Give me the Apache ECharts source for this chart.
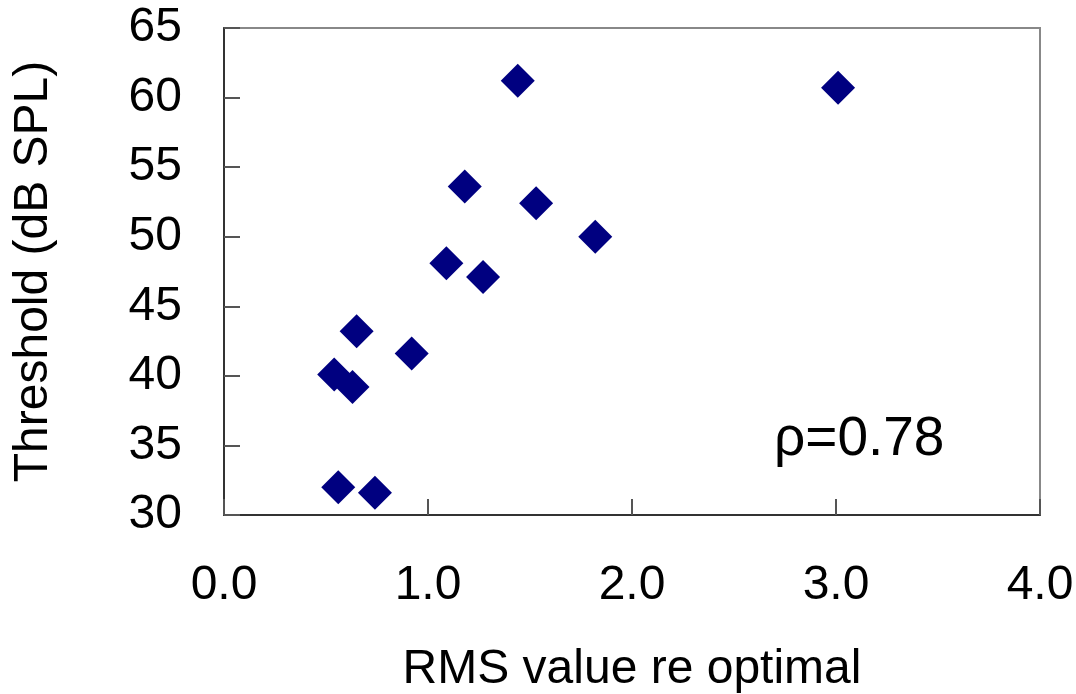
<!DOCTYPE html>
<html>
<head>
<meta charset="utf-8">
<script src="https://cdn.jsdelivr.net/npm/echarts@6/dist/echarts.min.js"></script>
<style>
  html, body { margin: 0; padding: 0; background: #fff; }
  #main { width: 1076px; height: 694px; }
</style>
</head>
<body>
<div id="main"></div>
<script>
// RMS value re optimal vs threshold, one point per subject
var rmsValues = [1.44, 3.01, 1.18, 1.53, 1.82, 1.09, 1.27, 0.65, 0.92, 0.54, 0.63, 0.56, 0.74];
var thresholds = [61.2, 60.7, 53.6, 52.4, 50.0, 48.1, 47.1, 43.2, 41.6, 40.1, 39.2, 32.0, 31.6];
var xTicks = [0, 1, 2, 3, 4];
var yTicks = [30, 35, 40, 45, 50, 55, 60, 65];
var rhoText = 'ρ=0.78';

var chart = echarts.init(document.getElementById('main'));

var points = [];
for (var i = 0; i < rmsValues.length; i++) {
    points.push([rmsValues[i], thresholds[i]]);
}

var font = 'Liberation Sans, Arial, sans-serif';

var option = {
    backgroundColor: '#fff',
    animation: false,
    title: {
        text: rhoText,
        left: 774,
        top: 412,
        padding: 0,
        textStyle: {
            fontFamily: font,
            fontSize: 55,
            fontWeight: 'normal',
            color: '#000'
        }
    },
    grid: {
        left: 224,
        top: 28,
        right: 36,
        bottom: 179,
        containLabel: false,
        outerBoundsMode: 'none',
        show: true,
        borderColor: '#888',
        borderWidth: 2
    },
    xAxis: {
        type: 'value',
        min: xTicks[0],
        max: xTicks[xTicks.length - 1],
        interval: 1,
        name: 'RMS value re optimal',
        nameLocation: 'middle',
        nameGap: 131,
        nameTextStyle: {fontFamily: font, fontSize: 48, color: '#000'},
        axisLine: {show: true, onZero: false, lineStyle: {color: '#333', width: 2}},
        axisTick: {show: true, inside: true, length: 16, lineStyle: {color: '#555', width: 2}},
        axisLabel: {
            margin: 47,
            fontFamily: font,
            fontSize: 48,
            color: '#000',
            formatter: function (v) { return v.toFixed(1); }
        },
        splitLine: {show: false}
    },
    yAxis: {
        type: 'value',
        min: yTicks[0],
        max: yTicks[yTicks.length - 1],
        interval: 5,
        name: 'Threshold (dB SPL)',
        nameLocation: 'middle',
        nameGap: 166,
        nameTextStyle: {fontFamily: font, fontSize: 48, color: '#000'},
        axisLine: {show: true, onZero: false, lineStyle: {color: '#333', width: 2}},
        axisTick: {show: true, inside: true, length: 16, lineStyle: {color: '#555', width: 2}},
        axisLabel: {
            margin: 42,
            fontFamily: font,
            fontSize: 48,
            color: '#000'
        },
        splitLine: {show: false}
    },
    series: [
        {
            type: 'scatter',
            symbol: 'diamond',
            symbolSize: [34, 34],
            itemStyle: {color: '#000080', opacity: 1},
            data: points
        }
    ]
};

chart.setOption(option);
</script>
</body>
</html>
